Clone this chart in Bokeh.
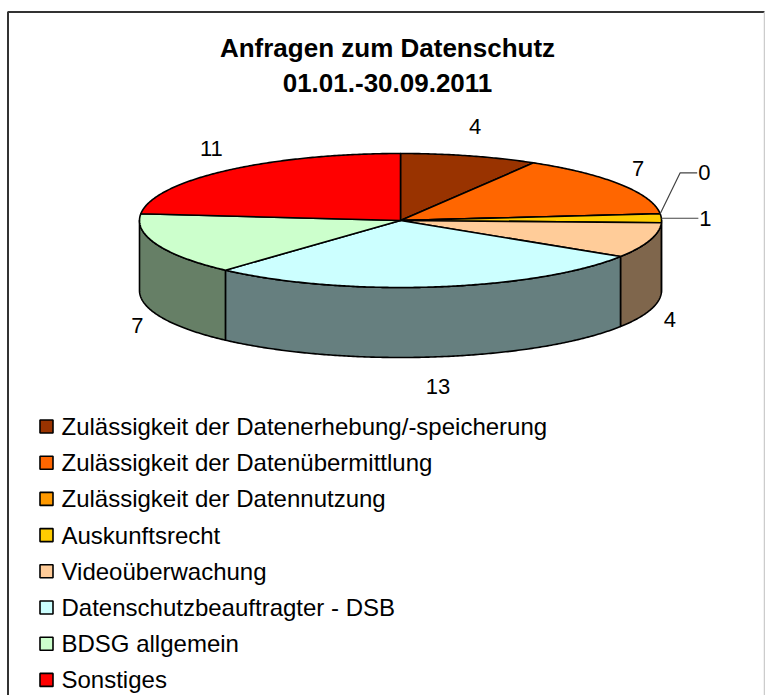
import numpy as np
from bokeh.plotting import figure
from bokeh.models import Range1d
from bokeh.core.properties import value
from bokeh.embed import file_html
from bokeh.resources import INLINE

# ---------------- data ----------------
title_lines = ["Anfragen zum Datenschutz", "01.01.-30.09.2011"]
categories = [
    "Zulässigkeit der Datenerhebung/-speicherung",
    "Zulässigkeit der Datenübermittlung",
    "Zulässigkeit der Datennutzung",
    "Auskunftsrecht",
    "Videoüberwachung",
    "Datenschutzbeauftragter - DSB",
    "BDSG allgemein",
    "Sonstiges",
]
values = [4, 7, 0, 1, 4, 13, 7, 11]
colors = ["#993300", "#FF6600", "#FF9900", "#FFCC00",
          "#FFCC99", "#CCFFFF", "#CCFFCC", "#FF0000"]

# ---------------- layout ----------------
W, H = 765, 695
CX, CY = 400.0, 220.0       # centre of top ellipse (px)
RA, RB = 261.0, 67.0        # ellipse semi axes
DEPTH = 70.0                # pie thickness
LAB_A, LAB_B = 282.0, 97.0  # label ellipse
FONT = "Liberation Sans"

def pt(theta_deg, dy=0.0, a=RA, b=RB):
    t = np.radians(theta_deg)
    return CX + a * np.sin(t), CY - b * np.cos(t) + dy

def half(c):
    r, g, b = int(c[1:3], 16), int(c[3:5], 16), int(c[5:7], 16)
    return "#%02x%02x%02x" % (r // 2, g // 2, b // 2)

p = figure(width=W, height=H, output_backend="svg", toolbar_location=None,
           x_range=Range1d(0, W), y_range=Range1d(H, 0),
           min_border=0, min_border_left=0, min_border_right=0,
           min_border_top=0, min_border_bottom=0)
p.axis.visible = False
p.grid.visible = False
p.outline_line_color = None
p.background_fill_color = "white"

# chart border
p.line([7.5, 7.5, 764], [700, 11.5, 11.5], line_color="#333333", line_width=2)
p.line([764, 764], [11.5, 700], line_color="#cccccc", line_width=1.5)

total = float(sum(values))
angles = np.concatenate([[0.0], np.cumsum(values) / total * 360.0])

# sides (front half only: 90..270 deg)
side_xs, side_ys, side_cols = [], [], []
for i, v in enumerate(values):
    s, e = angles[i], angles[i + 1]
    lo, hi = max(s, 90.0), min(e, 270.0)
    if hi <= lo:
        continue
    th = np.linspace(lo, hi, max(4, int((hi - lo) * 2)))
    tx, ty = pt(th)
    bx, by = pt(th[::-1], DEPTH)
    side_xs.append(list(tx) + list(bx))
    side_ys.append(list(ty) + list(by))
    side_cols.append(half(colors[i]))
p.patches(side_xs, side_ys, fill_color=side_cols, line_color="black", line_width=1.6,
          line_join="round")

# tops
top_xs, top_ys, top_cols = [], [], []
for i, v in enumerate(values):
    s, e = angles[i], angles[i + 1]
    th = np.linspace(s, e, max(2, int((e - s) * 2)))
    ax, ay = pt(th)
    top_xs.append([CX] + list(ax))
    top_ys.append([CY] + list(ay))
    top_cols.append(colors[i])
p.patches(top_xs, top_ys, fill_color=top_cols, line_color="black", line_width=1.6,
          line_join="round")

# data labels
small_elbows = [(20.0, -41.0), (0.0, 0.0)]
lab_x, lab_y, lab_t = [], [], []
sm_x, sm_y, sm_t = [], [], []
k = 0
for i, v in enumerate(values):
    m = (angles[i] + angles[i + 1]) / 2.0
    if v / total < 0.03:
        ex, ey = pt(m)
        dx, dy = small_elbows[k % len(small_elbows)]
        k += 1
        p.line([ex, ex + dx, ex + 37], [ey, ey + dy, ey + dy],
               line_color="#444444", line_width=1.2)
        sm_x.append(ex + 38)
        sm_y.append(ey + dy)
        sm_t.append(str(v))
    else:
        t = np.radians(m)
        lx = CX + LAB_A * np.sin(t)
        ly = CY - LAB_B * np.cos(t) + (DEPTH if np.cos(t) < 0 else 0.0)
        lab_x.append(lx)
        lab_y.append(ly)
        lab_t.append(str(v))
p.text(lab_x, lab_y, text=lab_t, text_font=value(FONT), text_font_size="22px",
       text_align="center", text_baseline="middle", text_color="black")
p.text(sm_x, sm_y, text=sm_t, text_font=value(FONT), text_font_size="22px",
       text_align="left", text_baseline="middle", text_color="black")

# title
p.text([387, 387], [47, 82], text=title_lines, text_font=value(FONT),
       text_font_size="26px", text_font_style="bold",
       text_align="center", text_baseline="middle", text_color="black")

# legend
LEG_Y0, LEG_DY = 426.0, 36.2
ly = [LEG_Y0 + i * LEG_DY for i in range(len(categories))]
p.rect([46] * len(categories), ly, width=13, height=13, fill_color=colors,
       line_color="black", line_width=1.6)
p.text([61] * len(categories), ly, text=categories, text_font=value(FONT),
       text_font_size="24px", text_align="left", text_baseline="middle",
       text_color="black")

open("out.html", "w").write(file_html(p, INLINE))
